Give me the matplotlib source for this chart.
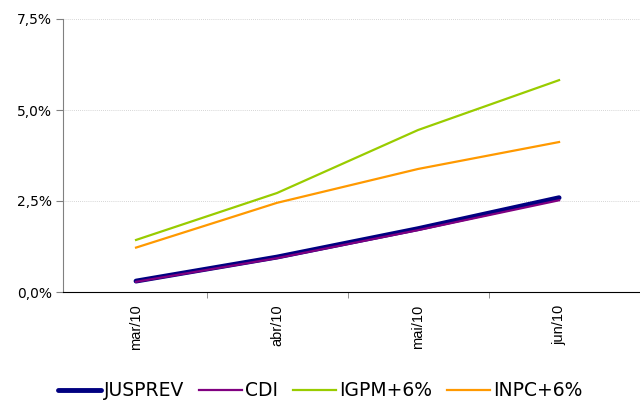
import matplotlib
matplotlib.use("Agg")
import matplotlib.pyplot as plt
from matplotlib.ticker import FuncFormatter, FixedLocator

months = ["mar/10", "abr/10", "mai/10", "jun/10"]
jusprev = [0.30, 0.96, 1.74, 2.59]
cdi = [0.28, 0.93, 1.70, 2.52]
igpm = [1.43, 2.72, 4.45, 5.82]
inpc = [1.22, 2.45, 3.38, 4.12]

fig = plt.figure(figsize=(6.4, 4.05), dpi=100)
ax = fig.add_axes([63 / 640, 1 - 292 / 405, 1 - 63 / 640, (292 - 19) / 405])

x = range(len(months))
ax.plot(x, jusprev, color="#000080", lw=3.5, label="JUSPREV", zorder=3, solid_capstyle="round")
ax.plot(x, cdi, color="#800080", lw=1.6, label="CDI", zorder=4)
ax.plot(x, igpm, color="#99CC00", lw=1.6, label="IGPM+6%", zorder=2)
ax.plot(x, inpc, color="#FF9900", lw=1.6, label="INPC+6%", zorder=2)

ax.set_xlim(-0.518, 3.574)
ax.set_ylim(0, 7.5)
ax.set_yticks([0, 2.5, 5, 7.5])
ax.yaxis.set_major_formatter(FuncFormatter(lambda v, p: f"{v:.1f}%".replace(".", ",")))
ax.yaxis.grid(True, color="#c8c8c8", ls=(0, (1, 1.5)), lw=0.6)
ax.set_axisbelow(True)

ax.set_xticks(list(x))
ax.set_xticklabels(months, rotation=90, fontsize=10.5, family="Liberation Sans")
ax.tick_params(axis="x", which="major", length=0, pad=9)
ax.xaxis.set_minor_locator(FixedLocator([0.5, 1.5, 2.5]))
ax.tick_params(axis="x", which="minor", length=4, color="#808080")
ax.tick_params(axis="y", length=5, color="#808080", labelsize=10, pad=3)

for s in ["top", "right"]:
    ax.spines[s].set_visible(False)
ax.spines["left"].set_color("#808080")
ax.spines["bottom"].set_color("black")

fig.legend(loc="lower center", bbox_to_anchor=(0.5, -0.03), ncol=4, frameon=False,
           fontsize=13.5, handlelength=2.3, handletextpad=0.15, columnspacing=0.8)

fig.savefig("out.png", dpi=100)
